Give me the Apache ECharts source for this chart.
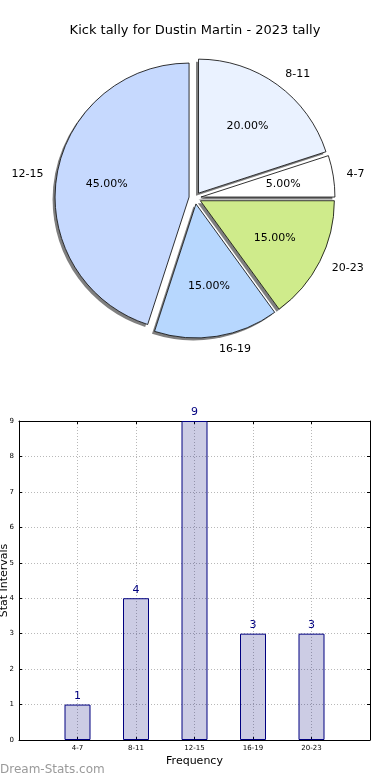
<!DOCTYPE html>
<html>
<head>
<meta charset="utf-8">
<script src="https://cdn.jsdelivr.net/npm/echarts@6/dist/echarts.min.js"></script>
<style>html,body{margin:0;padding:0;background:#fff}#c{width:390px;height:780px}</style>
</head>
<body>
<div id="c"></div>
<script>
const titleText = 'Kick tally for Dustin Martin - 2023 tally';
const categories = ['4-7', '8-11', '12-15', '16-19', '20-23'];
const counts = [1, 4, 9, 3, 3];
const pieColors = ['#ffffff', '#eaf2ff', '#c6d9fe', '#b7d7fe', '#cfeb8b'];
const yMin = 0, yMax = 9, yStep = 1;
const xAxisName = 'Frequency';
const yAxisName = 'Stat Intervals';
const watermark = 'Dream-Stats.com';

const FONT = 'DejaVu Sans';
const R = 134;
const CENTER = [195, 198];
const OFFSET = 6;
const total = counts.reduce((a, b) => a + b, 0);

const pieData = categories.map((c, i) => ({
  name: c, value: counts[i], selected: true,
  itemStyle: { color: pieColors[i] }
}));
const shadowData = categories.map((c, i) => ({
  name: c, value: counts[i], selected: true,
  itemStyle: { color: '#ffffff' }
}));
const clearData = categories.map((c, i) => ({
  name: c, value: counts[i], selected: true,
  itemStyle: { color: 'rgba(0,0,0,0)' }
}));
const xCats = [''].concat(categories, ['']);
const barData = ['-'].concat(counts, ['-']);

const pieBase = {
  type: 'pie', center: CENTER, startAngle: 0, clockwise: false,
  selectedMode: 'multiple', selectedOffset: OFFSET,
  avoidLabelOverlap: false, silent: true,
  emphasis: { disabled: true }
};

const axisLineStyle = { show: true, onZero: false, lineStyle: { color: '#000', width: 1 } };
const tickStyle = { show: true, inside: true, length: 3, lineStyle: { color: '#000' } };

const chart = echarts.init(document.getElementById('c'), null, { renderer: 'canvas' });
chart.setOption({
  animation: false,
  backgroundColor: '#fff',
  title: {
    text: titleText, left: 'center', top: 19,
    textStyle: { fontFamily: FONT, fontSize: 13, fontWeight: 'normal', color: '#000' }
  },
  graphic: [{
    type: 'text', left: 0, top: 764, z: 100,
    style: { text: watermark, fill: '#9a9a9a', font: '12px "DejaVu Sans"' }
  }],
  grid: {
    left: 19, right: 20, top: 421, bottom: 40, show: false,
    containLabel: false, outerBoundsMode: 'none'
  },
  xAxis: [{
    type: 'category', data: xCats, boundaryGap: false, position: 'bottom',
    axisLine: axisLineStyle,
    axisTick: Object.assign({ interval: 0 }, tickStyle),
    axisLabel: { interval: 0, fontFamily: FONT, fontSize: 7, color: '#000', margin: 5 },
    splitLine: { show: true, interval: 0, lineStyle: { color: '#b8b8b8', type: [1, 2], width: 1 } },
    name: xAxisName, nameLocation: 'middle', nameGap: 16, nameMoveOverlap: false,
    nameTextStyle: { fontFamily: FONT, fontSize: 11, color: '#000' }
  }, {
    type: 'category', data: xCats, boundaryGap: false, position: 'top',
    axisLine: axisLineStyle,
    axisTick: Object.assign({ interval: 0 }, tickStyle),
    axisLabel: { show: false }, splitLine: { show: false }
  }],
  yAxis: [{
    type: 'value', min: yMin, max: yMax, interval: yStep, position: 'left',
    axisLine: axisLineStyle,
    axisTick: tickStyle,
    axisLabel: { fontFamily: FONT, fontSize: 7, color: '#000', margin: 5 },
    splitLine: { show: true, lineStyle: { color: '#b8b8b8', type: [1, 2], width: 1 } },
    name: yAxisName, nameLocation: 'middle', nameGap: 9, nameRotate: 90, nameMoveOverlap: false,
    nameTextStyle: { fontFamily: FONT, fontSize: 11, color: '#000' }
  }, {
    type: 'value', min: yMin, max: yMax, interval: yStep, position: 'right',
    axisLine: axisLineStyle,
    axisTick: tickStyle,
    axisLabel: { show: false }, splitLine: { show: false }
  }],
  series: [
    Object.assign({}, pieBase, {
      radius: [0, R], data: shadowData,
      itemStyle: {
        borderWidth: 0,
        shadowColor: 'rgba(0,0,0,0.5)', shadowBlur: 0, shadowOffsetX: -2.5, shadowOffsetY: 2.5
      },
      label: { show: false }, labelLine: { show: false }
    }),
    Object.assign({}, pieBase, {
      radius: [0, R], data: pieData,
      itemStyle: { borderColor: '#000', borderWidth: 0.8 },
      label: { show: false }, labelLine: { show: false }
    }),
    Object.assign({}, pieBase, {
      radius: [0, R * 1.2], data: clearData,
      itemStyle: { borderWidth: 0 },
      label: {
        show: true, position: 'inside', color: '#000', fontFamily: FONT, fontSize: 11,
        formatter: p => (p.value / total * 100).toFixed(2) + '%'
      },
      labelLine: { show: false }
    }),
    Object.assign({}, pieBase, {
      radius: [0, R], data: clearData,
      itemStyle: { borderWidth: 0 },
      label: {
        show: true, position: 'outside', alignTo: 'none', distanceToLabelLine: 0,
        color: '#000', fontFamily: FONT, fontSize: 11, formatter: '{b}'
      },
      labelLine: { show: false, length: R * 0.1, length2: 0 }
    }),
    {
      type: 'bar', xAxisIndex: 0, yAxisIndex: 0, data: barData, barWidth: 26,
      itemStyle: { color: 'rgba(0,0,120,0.2)', borderColor: '#000080', borderWidth: 1 },
      label: { show: true, position: 'top', distance: 3, color: '#000080', fontFamily: FONT, fontSize: 11 },
      silent: true
    }
  ]
});
</script>
</body>
</html>
